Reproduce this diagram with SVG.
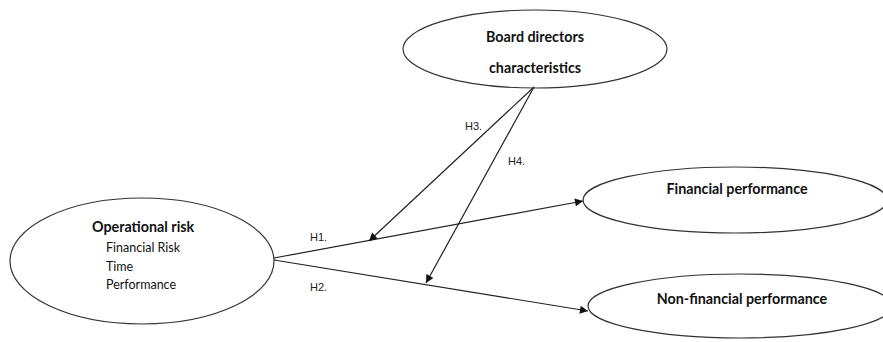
<svg xmlns="http://www.w3.org/2000/svg" width="883" height="342" viewBox="0 0 883 342">
<style>
.node{fill:#fff;stroke:#333;stroke-width:1.2}
.t{font-family:Lato,"Liberation Sans",sans-serif;fill:#111}
.b{font-weight:bold;font-size:14.3px}
.s{font-size:12.5px}
.h{font-family:"Liberation Sans",Arial,sans-serif;font-size:11px;fill:#222}
.c{stroke:#222;stroke-width:1.2;fill:none;marker-end:url(#ah)}
</style>
<defs>
<marker id="ah" viewBox="0 0 10 10" refX="10" refY="5" markerWidth="10" markerHeight="8" markerUnits="userSpaceOnUse" orient="auto">
<path d="M0,0 L10,5 L0,10 z" fill="#111"/>
</marker>
</defs>
<g id="operational-risk">
<ellipse class="node" cx="142" cy="261" rx="132" ry="63"/>
<text class="t b" x="92" y="232">Operational risk</text>
<text class="t s" x="106" y="252">Financial Risk</text>
<text class="t s" x="106" y="271">Time</text>
<text class="t s" x="106" y="289">Performance</text>
</g>
<g id="board-directors">
<ellipse class="node" cx="535" cy="49" rx="132" ry="39"/>
<text class="t b" x="535" y="42" text-anchor="middle">Board directors</text>
<text class="t b" x="535" y="73" text-anchor="middle">characteristics</text>
</g>
<g id="financial-performance">
<ellipse class="node" cx="735" cy="200" rx="152" ry="33"/>
<text class="t b" x="737" y="194" text-anchor="middle">Financial performance</text>
</g>
<g id="non-financial-performance">
<ellipse class="node" cx="740" cy="306" rx="152" ry="32"/>
<text class="t b" x="742" y="304" text-anchor="middle">Non-financial performance</text>
</g>
<g id="connectors">
<line class="c" x1="274" y1="258" x2="583" y2="201"/>
<line class="c" x1="274" y1="260" x2="588" y2="311"/>
<line class="c" x1="534" y1="87" x2="369" y2="241"/>
<line class="c" x1="534" y1="87" x2="426" y2="283"/>
<text class="h" x="310" y="241">H1.</text>
<text class="h" x="310" y="291">H2.</text>
<text class="h" x="465" y="130">H3.</text>
<text class="h" x="508" y="165">H4.</text>
</g>
</svg>
